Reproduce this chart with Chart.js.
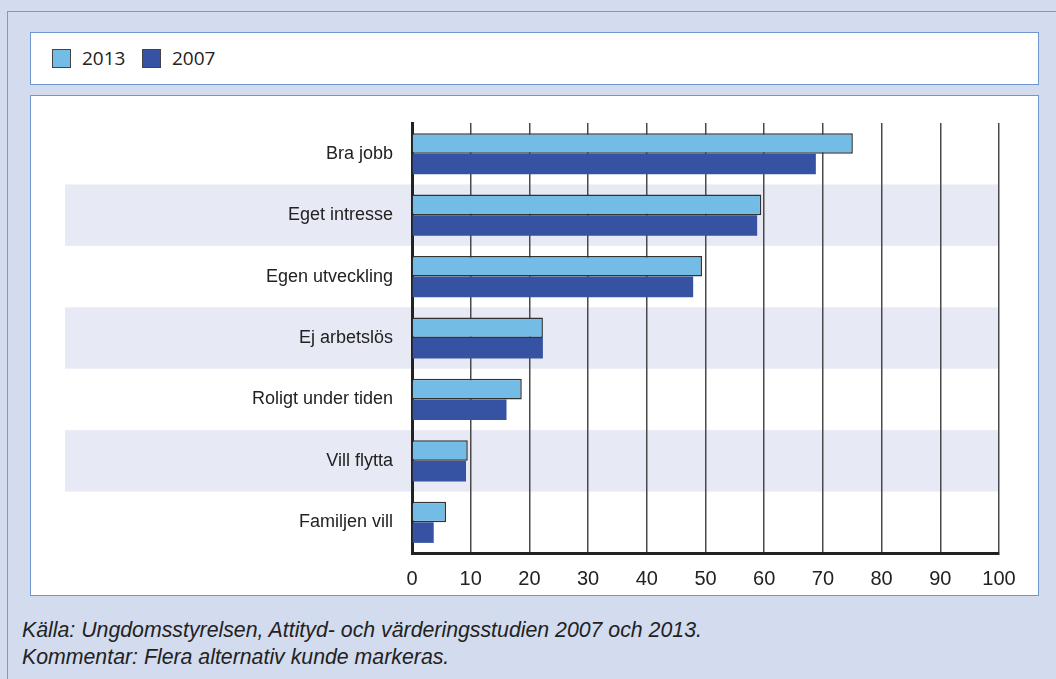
<!DOCTYPE html>
<html>
<head>
<meta charset="utf-8">
<script src="https://cdn.jsdelivr.net/npm/chart.js"></script>
<style>
    body { margin: 0; width: 1056px; height: 679px; background: #d3dbee; position: relative; overflow: hidden; font-family: "Liberation Sans", Arial, sans-serif; }
    #frame { position: absolute; left: 7px; top: 11px; width: 1060px; height: 680px; border-left: 1px solid #7b9bd0; border-top: 1px solid #7b9bd0; }
    #legendBox { position: absolute; left: 30px; top: 32px; width: 1007px; height: 51px; background: #fff; border: 1px solid #7096cf; }
    #chartBox { position: absolute; left: 30px; top: 95px; width: 1007px; height: 499px; background: #fff; border: 1px solid #7096cf; }
    #chartBox canvas { position: absolute; left: 0; top: 0; }
    .item { position: absolute; top: 16px; font-family: "Open Sans", sans-serif; font-size: 19px; color: #222; line-height: 19px; }
    .sw { display: inline-block; width: 17px; height: 17px; border: 1px solid #444; vertical-align: top; margin-right: 11px; }
    #note { position: absolute; left: 22px; top: 617px; font-style: italic; font-size: 21.3px; line-height: 27px; color: #222; }
</style>
</head>
<body>
<div id="frame"></div>
<div id="legendBox">
    <div class="item" style="left:21px"><span class="sw" style="background:#72bce6"></span>2013</div>
    <div class="item" style="left:111px"><span class="sw" style="background:#3653a3"></span>2007</div>
</div>
<div id="chartBox"><canvas id="myChart" width="1007" height="499"></canvas></div>
<div id="note">Källa: Ungdomsstyrelsen, Attityd- och värderingsstudien 2007 och 2013.<br>Kommentar: Flera alternativ kunde markeras.</div>
<script>
var labels = ['Bra jobb', 'Eget intresse', 'Egen utveckling', 'Ej arbetslös', 'Roligt under tiden', 'Vill flytta', 'Familjen vill'];
var values2013 = [75.1, 59.5, 49.4, 22.3, 18.7, 9.5, 5.8];
var values2007 = [68.8, 58.8, 47.9, 22.3, 16.1, 9.2, 3.7];
var xTicks = [0, 10, 20, 30, 40, 50, 60, 70, 80, 90, 100];

// alternating row shading, drawn below the grid
var bandPlugin = {
    id: 'bands',
    beforeDraw: function(chart) {
        var ctx = chart.ctx;
        var y = chart.scales.y;
        var area = chart.chartArea;
        var half = (area.bottom - area.top) / labels.length / 2;
        ctx.save();
        ctx.fillStyle = '#e7eaf4';
        for (var i = 1; i < labels.length; i += 2) {
            var c = y.getPixelForValue(i);
            ctx.fillRect(34, c - half, area.right - 34, half * 2);
        }
        ctx.restore();
    }
};

function renderChart() {
    var ctx = document.getElementById('myChart').getContext('2d');
    var myChart = new Chart(ctx, {
        type: 'bar',
        data: {
            labels: labels,
            datasets: [{
                label: '2013',
                data: values2013,
                backgroundColor: '#72bce6',
                borderColor: '#333',
                borderWidth: 1.5
            }, {
                label: '2007',
                data: values2007,
                backgroundColor: '#3653a3',
                borderWidth: 0
            }]
        },
        options: {
            indexAxis: 'y',
            responsive: false,
            animation: false,
            layout: { padding: { top: 27, right: 39, left: 0, bottom: 0 } },
            datasets: { bar: { categoryPercentage: 0.67, barPercentage: 1.0 } },
            plugins: {
                legend: { display: false },
                tooltip: { enabled: false }
            },
            scales: {
                x: {
                    min: 0,
                    max: 100,
                    afterBuildTicks: function(scale) {
                        scale.ticks = xTicks.map(function(v) { return { value: v }; });
                    },
                    afterFit: function(scale) { scale.height = 42; },
                    grid: { color: '#4a4a4a', lineWidth: 1.5, drawTicks: false },
                    border: { display: true, color: '#222', width: 3 },
                    ticks: {
                        padding: 14,
                        color: '#222',
                        font: { family: 'Liberation Sans', size: 20 }
                    }
                },
                y: {
                    afterFit: function(scale) {
                        scale.width = 381;
                        scale.paddingTop = 0;
                        scale.paddingBottom = 0;
                    },
                    grid: { display: false, drawTicks: false },
                    border: { display: true, color: '#222', width: 3 },
                    ticks: {
                        padding: 19,
                        color: '#222',
                        font: { family: 'Liberation Sans', size: 18 }
                    }
                }
            }
        },
        plugins: [bandPlugin]
    });
}
renderChart();
</script>
</body>
</html>
